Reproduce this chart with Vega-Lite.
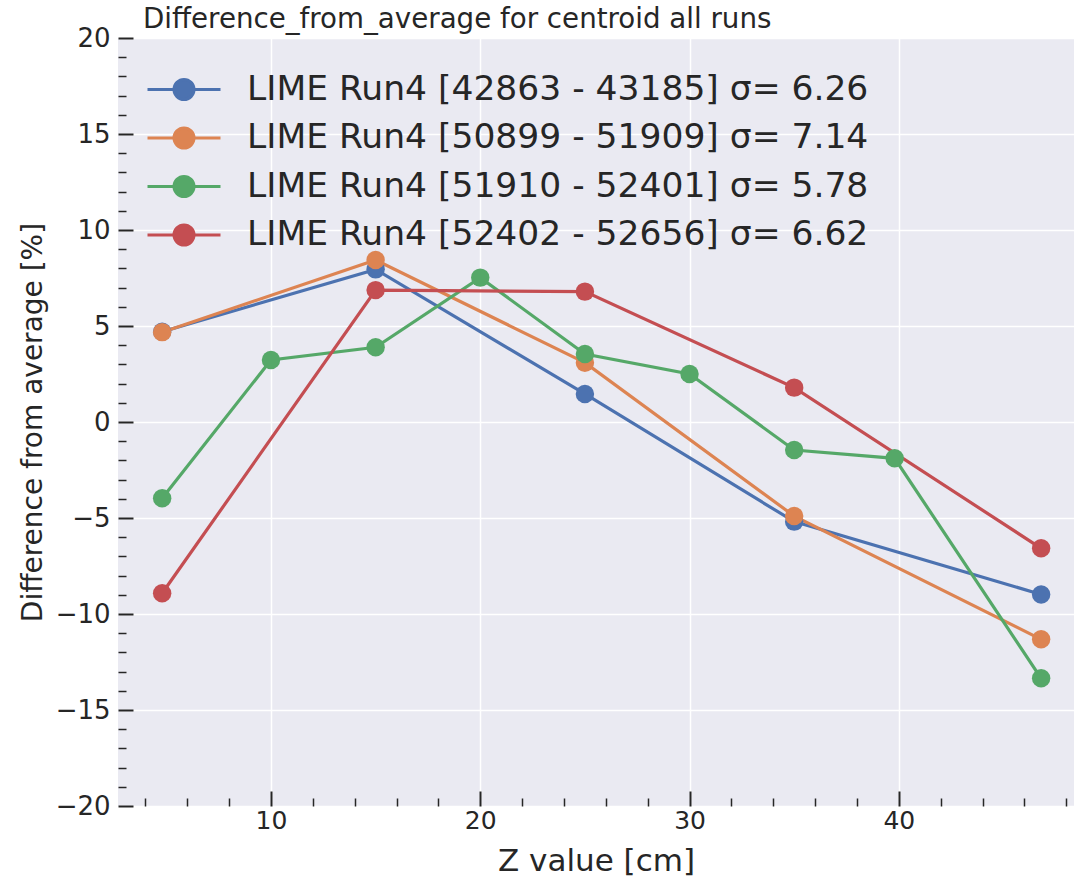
{
  "$schema": "https://vega.github.io/schema/vega-lite/v6.json",
  "width": 956,
  "height": 768,
  "autosize": {"type": "none"},
  "padding": {"left": 118, "top": 38, "right": 0, "bottom": 71},
  "background": "white",
  "title": {
    "text": "Difference_from_average for centroid all runs",
    "anchor": "start",
    "frame": "group",
    "dx": 25,
    "offset": -31,
    "baseline": "alphabetic",
    "fontSize": 27.7,
    "fontWeight": "normal",
    "font": "DejaVu Sans",
    "color": "#262626"
  },
  "data": {
    "values": [
      {"run": "LIME Run4 [42863 - 43185] σ= 6.26", "z": 4.8, "diff": 4.7},
      {"run": "LIME Run4 [42863 - 43185] σ= 6.26", "z": 15, "diff": 7.95},
      {"run": "LIME Run4 [42863 - 43185] σ= 6.26", "z": 25, "diff": 1.46},
      {"run": "LIME Run4 [42863 - 43185] σ= 6.26", "z": 35, "diff": -5.19},
      {"run": "LIME Run4 [42863 - 43185] σ= 6.26", "z": 46.8, "diff": -8.98},
      {"run": "LIME Run4 [50899 - 51909] σ= 7.14", "z": 4.8, "diff": 4.68},
      {"run": "LIME Run4 [50899 - 51909] σ= 7.14", "z": 15, "diff": 8.44},
      {"run": "LIME Run4 [50899 - 51909] σ= 7.14", "z": 25, "diff": 3.09},
      {"run": "LIME Run4 [50899 - 51909] σ= 7.14", "z": 35, "diff": -4.9},
      {"run": "LIME Run4 [50899 - 51909] σ= 7.14", "z": 46.8, "diff": -11.32},
      {"run": "LIME Run4 [51910 - 52401] σ= 5.78", "z": 4.8, "diff": -3.97},
      {"run": "LIME Run4 [51910 - 52401] σ= 5.78", "z": 10, "diff": 3.23},
      {"run": "LIME Run4 [51910 - 52401] σ= 5.78", "z": 15, "diff": 3.89},
      {"run": "LIME Run4 [51910 - 52401] σ= 5.78", "z": 20, "diff": 7.52},
      {"run": "LIME Run4 [51910 - 52401] σ= 5.78", "z": 25, "diff": 3.54},
      {"run": "LIME Run4 [51910 - 52401] σ= 5.78", "z": 30, "diff": 2.5},
      {"run": "LIME Run4 [51910 - 52401] σ= 5.78", "z": 35, "diff": -1.46},
      {"run": "LIME Run4 [51910 - 52401] σ= 5.78", "z": 39.8, "diff": -1.89},
      {"run": "LIME Run4 [51910 - 52401] σ= 5.78", "z": 46.8, "diff": -13.35},
      {"run": "LIME Run4 [52402 - 52656] σ= 6.62", "z": 4.8, "diff": -8.92},
      {"run": "LIME Run4 [52402 - 52656] σ= 6.62", "z": 15, "diff": 6.87},
      {"run": "LIME Run4 [52402 - 52656] σ= 6.62", "z": 25, "diff": 6.79},
      {"run": "LIME Run4 [52402 - 52656] σ= 6.62", "z": 35, "diff": 1.79},
      {"run": "LIME Run4 [52402 - 52656] σ= 6.62", "z": 46.8, "diff": -6.58}
    ]
  },
  "mark": {
    "type": "line",
    "strokeWidth": 3.2,
    "point": {"filled": true, "size": 340, "opacity": 1}
  },
  "encoding": {
    "x": {
      "field": "z",
      "type": "quantitative",
      "title": "Z value [cm]",
      "scale": {"domain": [2.69, 48.37], "nice": false, "zero": false},
      "axis": {
        "values": [4, 6, 8, 10, 12, 14, 16, 18, 20, 22, 24, 26, 28, 30, 32, 34, 36, 38, 40, 42, 44, 46, 48],
        "labelExpr": "datum.value % 10 === 0 ? datum.label : ''",
        "tickSize": {"condition": {"test": "datum.value % 10 === 0", "value": -15}, "value": -8},
        "tickWidth": {"condition": {"test": "datum.value % 10 === 0", "value": 2}, "value": 1.5},
        "gridOpacity": {"condition": {"test": "datum.value % 10 === 0", "value": 1}, "value": 0},
        "labelPadding": 17,
        "titleY": 64,
        "titleBaseline": "alphabetic",
        "titleFontSize": 31
      }
    },
    "y": {
      "field": "diff",
      "type": "quantitative",
      "title": "Difference from average [%]",
      "scale": {"domain": [-20, 20], "nice": false, "zero": false},
      "axis": {
        "values": [-20, -19, -18, -17, -16, -15, -14, -13, -12, -11, -10, -9, -8, -7, -6, -5, -4, -3, -2, -1, 0, 1, 2, 3, 4, 5, 6, 7, 8, 9, 10, 11, 12, 13, 14, 15, 16, 17, 18, 19, 20],
        "labelExpr": "datum.value % 5 === 0 ? datum.label : ''",
        "tickSize": {"condition": {"test": "datum.value % 5 === 0", "value": -15}, "value": -8},
        "tickWidth": {"condition": {"test": "datum.value % 5 === 0", "value": 2}, "value": 1.5},
        "gridOpacity": {"condition": {"test": "datum.value % 5 === 0", "value": 1}, "value": 0},
        "labelPadding": 23,
        "labelFontSize": 26,
        "titleX": -77,
        "titleY": 384,
        "titleAngle": -90,
        "titleAlign": "center",
        "titleBaseline": "alphabetic",
        "titleFontSize": 28
      }
    },
    "color": {
      "field": "run",
      "type": "nominal",
      "scale": {
        "domain": ["LIME Run4 [42863 - 43185] σ= 6.26", "LIME Run4 [50899 - 51909] σ= 7.14", "LIME Run4 [51910 - 52401] σ= 5.78", "LIME Run4 [52402 - 52656] σ= 6.62"],
        "range": ["#4C72B0", "#DD8452", "#55A868", "#C44E52"]
      },
      "legend": {
        "title": null,
        "orient": "none",
        "legendX": 28,
        "legendY": 31.5,
        "padding": 0,
        "symbolType": "M-1,0L1,0M-0.274,0A0.274,0.274,0,1,0,0.274,0A0.274,0.274,0,1,0,-0.274,0Z",
        "symbolSize": 5329,
        "symbolStrokeWidth": 3,
        "clipHeight": 40,
        "rowPadding": 8.5,
        "labelOffset": 25,
        "labelFontSize": 34.5,
        "labelLimit": 2000,
        "labelColor": "#262626",
        "labelFont": "DejaVu Sans",
        "encode": {
          "symbols": {
            "update": {
              "fill": {"scale": "color", "field": "value"},
              "stroke": {"scale": "color", "field": "value"},
              "opacity": {"value": 1},
              "fillOpacity": {"value": 1}
            }
          }
        }
      }
    }
  },
  "config": {
    "font": "DejaVu Sans",
    "view": {"fill": "#EAEAF2", "stroke": null},
    "axis": {
      "domain": false,
      "grid": true,
      "gridColor": "#FFFFFF",
      "gridWidth": 1.5,
      "tickColor": "#262626",
      "labelFontSize": 25,
      "labelColor": "#262626",
      "labelFont": "DejaVu Sans",
      "titleFont": "DejaVu Sans",
      "titleFontWeight": "normal",
      "titleColor": "#262626"
    }
  }
}
